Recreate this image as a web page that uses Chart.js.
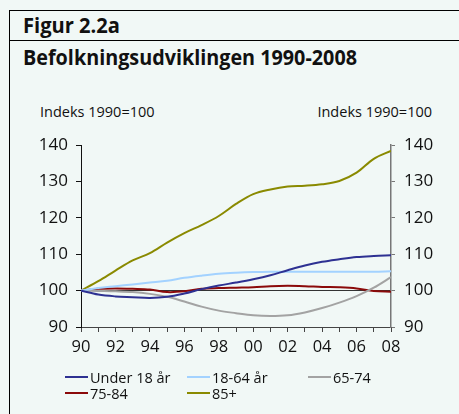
<!DOCTYPE html>
<html>
<head>
<meta charset="utf-8">
<script src="https://cdn.jsdelivr.net/npm/chart.js@4.4.1/dist/chart.umd.min.js"></script>
<style>
  html, body { margin:0; padding:0; }
  body { width:459px; height:414px; background:#f1f8f6; position:relative; overflow:hidden; font-family:"Open Sans", sans-serif; color:#111; }
  .hl { position:absolute; background:#000; }
  .title { position:absolute; left:23px; font-weight:bold; white-space:nowrap; transform-origin:0 0; color:#111; }
  .axlab { position:absolute; top:102px; font-size:14.5px; white-space:nowrap; color:#111; }
  canvas { position:absolute; left:0; top:0; }
  .leg { position:absolute; font-size:14.5px; white-space:nowrap; display:flex; align-items:center; height:16px; color:#111; }
  .leg span.s { display:inline-block; width:23px; height:2px; margin-right:2px; }
</style>
</head>
<body>
<div class="hl" style="left:9px; top:10px; width:450px; height:1px;"></div>
<div class="hl" style="left:9px; top:40px; width:450px; height:1px;"></div>
<div class="hl" style="left:9px; top:10px; width:1px; height:404px;"></div>
<div class="title" id="t1" style="top:11px; font-size:21px;">Figur 2.2a</div>
<div class="title" id="t2" style="top:42px; font-size:21.5px;">Befolkningsudviklingen 1990-2008</div>
<div class="axlab" id="ylL" style="left:40px;">Indeks 1990=100</div>
<div class="axlab" id="ylR" style="right:27px;">Indeks 1990=100</div>
<canvas id="c" width="459" height="414"></canvas>
<div id="legend"></div>
<script>
const years = [1990,1991,1992,1993,1994,1995,1996,1997,1998,1999,2000,2001,2002,2003,2004,2005,2006,2007,2008];
const under18 = [100,98.9,98.4,98.2,98.0,98.3,99.2,100.4,101.4,102.2,103.1,104.2,105.6,106.9,107.9,108.6,109.2,109.5,109.7];
const age18_64 = [100,100.7,101.2,101.7,102.2,102.7,103.5,104.1,104.6,104.9,105.1,105.2,105.2,105.2,105.2,105.2,105.2,105.2,105.3];
const age65_74 = [100,99.9,99.8,99.6,99.1,98.3,97.0,95.6,94.5,93.8,93.2,93.0,93.2,94.0,95.2,96.7,98.5,100.8,103.7];
const age75_84 = [100,100.5,100.6,100.5,100.3,99.6,99.8,100.5,100.7,100.8,100.9,101.2,101.3,101.2,101.0,100.9,100.6,99.9,99.7];
const age85plus = [100,102.6,105.5,108.3,110.3,113.2,115.8,118.0,120.5,123.8,126.5,127.8,128.6,128.8,129.2,130.1,132.4,136.2,138.4];
const seriesNames = ["Under 18 år","18-64 år","65-74","75-84","85+"];
const seriesColors = ["#2e3192","#a3d2ff","#a3a3a3","#8b0a0a","#8a8a00"];
const seriesData = [under18, age18_64, age65_74, age75_84, age85plus];
const yTicks = [90,100,110,120,130,140];

function fitWidth(id, target){
  const el = document.getElementById(id);
  const w = el.getBoundingClientRect().width;
  el.style.transform = 'scaleX(' + (target / w) + ')';
}
fitWidth('t1', 97);
fitWidth('t2', 334);

const datasets = seriesNames.map((n,i)=>({
  label:n,
  data: years.map((y,j)=>({x:y, y:seriesData[i][j]})),
  borderColor: seriesColors[i],
  backgroundColor: seriesColors[i],
  borderWidth: 2,
  pointRadius: 0,
  tension: 0.35,
  yAxisID: 'y'
}));

const font = {family:'"Open Sans", sans-serif', size:17};
new Chart(document.getElementById('c'), {
  type:'line',
  data:{ datasets },
  options:{
    responsive:false,
    animation:false,
    devicePixelRatio:1,
    layout:{ padding:{ top:145, left:0, right:0, bottom:0 } },
    plugins:{ legend:{display:false}, tooltip:{enabled:false} },
    scales:{
      x:{
        type:'linear', min:1990, max:2008,
        afterFit: s => { s.height = 87; },
        afterBuildTicks: s => { s.ticks = years.map(v=>({value:v})); },
        ticks:{ autoSkip:false, maxRotation:0, padding:5, color:'#111',
          font:{family:'"Open Sans", sans-serif', size:16.5},
          callback: v => (v % 2 === 0) ? String(v).slice(2) : '' },
        grid:{ drawOnChartArea:false, drawTicks:true, tickLength:5, tickColor:'#444', color:'#444' },
        border:{ display:true, color:'#444', width:1 }
      },
      y:{
        position:'left', min:90, max:140,
        afterFit: s => { s.width = 81; },
        afterBuildTicks: s => { s.ticks = yTicks.map(v=>({value:v})); },
        ticks:{ padding:8, color:'#111', font },
        grid:{ drawOnChartArea:true, tickLength:5, tickColor:'#111',
          color: c => (c.tick && c.tick.value === 100) ? '#333' : 'rgba(0,0,0,0)', lineWidth:1 },
        border:{ display:true, color:'#111', width:1 }
      },
      y2:{
        position:'right', min:90, max:140,
        afterFit: s => { s.width = 68; },
        afterBuildTicks: s => { s.ticks = yTicks.map(v=>({value:v})); },
        ticks:{ padding:9, color:'#111', font },
        grid:{ drawOnChartArea:false, tickLength:4, tickColor:'#777', color:'#777' },
        border:{ display:true, color:'#777', width:1.5 }
      }
    }
  }
});

const legPos = [[65,369],[187,369],[308,369],[65,385],[187,385]];
const leg = document.getElementById('legend');
seriesNames.forEach((n,i)=>{
  const d = document.createElement('div');
  d.className = 'leg';
  d.style.left = legPos[i][0] + 'px';
  d.style.top = legPos[i][1] + 'px';
  d.innerHTML = '<span class="s" style="background:'+seriesColors[i]+'"></span>' + n;
  leg.appendChild(d);
});
</script>
</body>
</html>
